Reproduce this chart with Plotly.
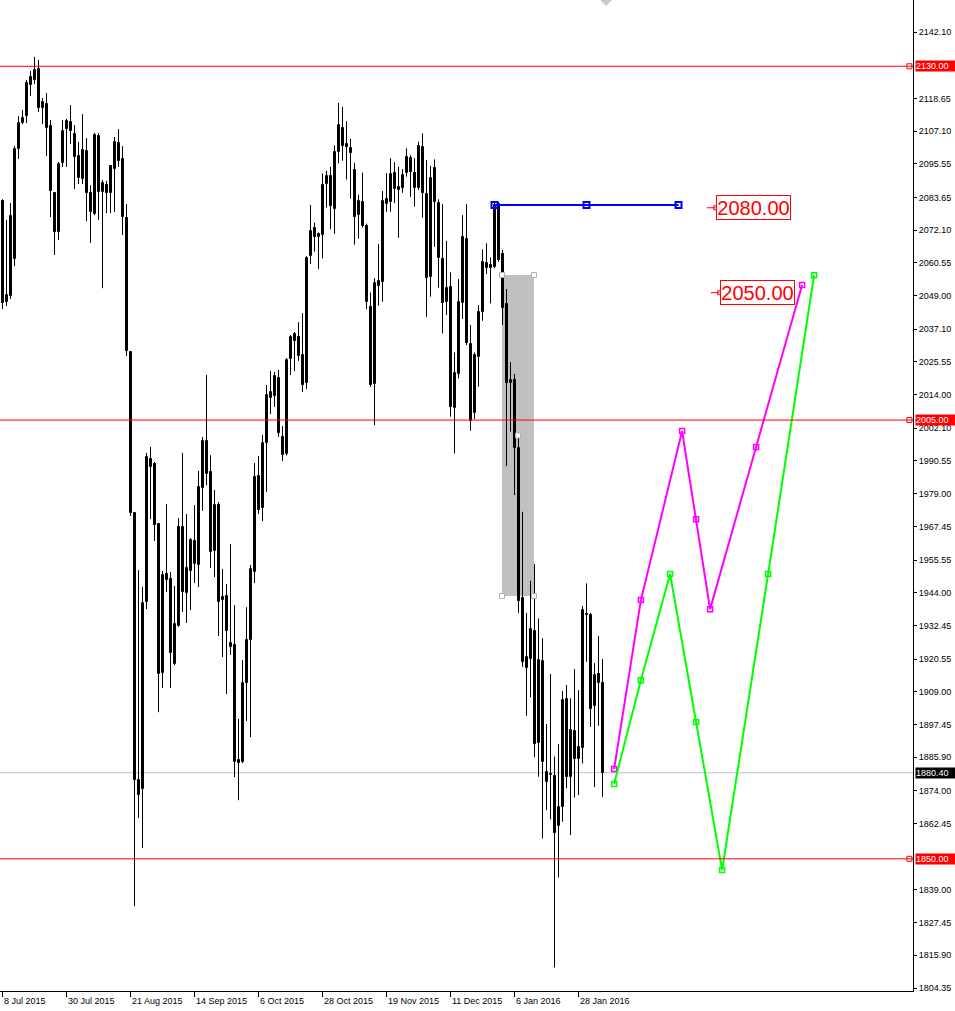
import plotly.graph_objects as go

# ---------------- data ----------------
opens = [2082.4, 2046.7, 2048.8, 2061.9, 2100.8, 2109.9, 2112.4, 2123.4, 2125.1, 2129.0,
         2115.2, 2116.7, 2108.9, 2085.2, 2071.4, 2095.8, 2107.8, 2110.3, 2106.1, 2098.3,
         2090.2, 2100.0, 2085.2, 2077.8, 2105.3, 2085.6, 2088.0, 2085.2, 2093.7, 2102.9,
         2097.2, 2076.4, 2029.0, 1972.1, 1877.8, 1874.6, 1940.7, 1991.2, 1989.5, 1968.3,
         1915.6, 1950.6, 1948.8, 1918.8, 1932.2, 1967.2, 1943.9, 1951.7, 1962.3, 1953.8,
         1981.0, 1997.6, 1986.6, 1958.7, 1975.0, 1941.4, 1942.8, 1924.8, 1925.5, 1884.9,
         1884.2, 1912.1, 1927.3, 1951.3, 1985.2, 1973.9, 1996.9, 2012.8, 2013.5, 2019.9,
         1999.0, 1993.0, 2026.6, 2032.9, 2034.3, 2028.0, 2018.1, 2062.9, 2072.7, 2069.8,
         2070.5, 2088.4, 2091.2, 2079.7, 2099.8, 2108.2, 2102.7, 2101.1, 2093.5, 2077.6,
         2082.1, 2073.7, 2044.9, 2017.6, 2052.4, 2053.7, 2081.2, 2082.1, 2092.2, 2086.2,
         2086.9, 2092.2, 2097.7, 2092.4, 2086.9, 2101.4, 2084.9, 2055.4, 2093.9, 2081.6,
         2061.8, 2046.8, 2051.9, 2009.1, 2021.2, 2046.2, 2068.9, 2031.8, 2007.6, 2027.4,
         2043.1, 2060.4, 2059.8, 2059.0, 2081.2, 2063.7, 2046.0, 2018.2, 2019.1, 1995.2,
         1942.1, 1917.3, 1920.5, 1930.5, 1890.8, 1919.9, 1877.0, 1879.9, 1879.2, 1861.7,
         1868.4, 1906.3, 1879.0, 1895.1, 1885.1, 1889.0, 1936.4, 1936.1, 1904.1, 1915.2,
         1912.0]
highs = [2083.0, 2075.7, 2081.7, 2101.8, 2112.4, 2114.5, 2125.1, 2128.3, 2133.3, 2132.2,
         2118.8, 2120.5, 2111.0, 2085.2, 2096.2, 2111.0, 2111.4, 2116.3, 2109.2, 2103.2,
         2113.1, 2104.6, 2088.0, 2106.4, 2106.4, 2089.8, 2089.5, 2095.1, 2105.0, 2107.8,
         2101.8, 2081.3, 2029.0, 1972.5, 1952.0, 1946.0, 1993.4, 1995.5, 1990.2, 1968.6,
         1951.7, 1975.3, 1951.3, 1946.4, 1970.4, 1993.4, 1971.8, 1963.3, 1975.0, 1987.0,
         1999.0, 2020.9, 1992.6, 1980.3, 1976.0, 1952.4, 1947.1, 1961.2, 1939.6, 1899.4,
         1920.2, 1938.9, 1953.8, 1989.8, 1992.3, 1999.7, 2017.4, 2022.3, 2022.0, 2022.7,
         2002.9, 2026.9, 2035.0, 2036.1, 2039.6, 2042.8, 2062.9, 2081.0, 2074.8, 2071.3,
         2092.1, 2093.1, 2094.5, 2102.0, 2117.0, 2115.6, 2110.6, 2104.4, 2095.9, 2084.6,
         2092.4, 2074.4, 2050.1, 2055.1, 2067.2, 2085.9, 2092.2, 2097.5, 2096.1, 2094.5,
         2093.7, 2101.0, 2098.6, 2097.5, 2103.3, 2106.3, 2096.9, 2094.8, 2097.1, 2083.0,
         2081.3, 2068.3, 2057.2, 2028.9, 2054.8, 2077.4, 2081.3, 2038.6, 2028.9, 2045.6,
         2065.3, 2067.4, 2062.5, 2082.4, 2082.1, 2065.1, 2051.3, 2025.5, 2021.3, 1999.5,
         1972.6, 1936.9, 1948.2, 1954.1, 1934.9, 1927.9, 1897.6, 1915.3, 1886.1, 1890.5,
         1909.3, 1911.4, 1906.7, 1917.0, 1909.6, 1939.3, 1947.3, 1936.9, 1919.1, 1928.7,
         1920.6]
lows = [2044.2, 2045.3, 2047.8, 2059.4, 2097.2, 2109.5, 2109.9, 2119.5, 2123.7, 2113.8,
        2109.6, 2098.3, 2076.7, 2063.3, 2068.6, 2094.4, 2094.4, 2102.5, 2086.6, 2088.4,
        2088.4, 2075.3, 2067.6, 2077.4, 2075.7, 2051.6, 2078.1, 2078.1, 2078.5, 2094.4,
        2070.4, 2027.6, 1971.1, 1833.3, 1864.4, 1853.8, 1938.2, 1970.0, 1962.3, 1901.8,
        1910.3, 1944.2, 1910.3, 1918.4, 1932.0, 1937.2, 1933.3, 1937.9, 1947.4, 1946.0,
        1972.9, 1982.0, 1952.7, 1949.5, 1928.7, 1921.3, 1908.2, 1922.0, 1878.9, 1870.7,
        1883.8, 1898.7, 1893.0, 1947.4, 1971.8, 1969.3, 1979.6, 2007.1, 2009.6, 1999.0,
        1990.5, 1992.5, 2020.9, 2022.3, 2025.9, 2014.9, 2016.0, 2060.1, 2064.5, 2058.4,
        2062.1, 2080.1, 2072.4, 2070.8, 2095.7, 2096.6, 2090.0, 2083.2, 2067.0, 2069.1,
        2073.0, 2044.2, 2016.7, 2003.2, 2045.4, 2046.8, 2078.6, 2078.6, 2081.6, 2069.4,
        2085.3, 2091.0, 2083.9, 2080.4, 2086.3, 2076.5, 2041.5, 2048.6, 2066.2, 2051.8,
        2035.6, 2042.1, 2006.2, 1993.2, 2019.7, 2040.7, 2031.5, 2001.2, 2005.4, 2016.8,
        2040.1, 2056.6, 2046.2, 2058.6, 2060.9, 2038.6, 1988.8, 2000.9, 1978.5, 1936.9,
        1917.8, 1900.5, 1907.0, 1885.9, 1879.0, 1857.2, 1867.2, 1863.9, 1811.6, 1843.4,
        1863.1, 1874.9, 1858.4, 1871.6, 1872.5, 1883.7, 1919.6, 1896.6, 1875.3, 1897.0,
        1871.9]
closes = [2046.3, 2049.2, 2077.1, 2100.8, 2109.9, 2111.7, 2124.1, 2126.2, 2128.7, 2115.2,
          2117.4, 2108.2, 2085.9, 2071.4, 2095.5, 2107.1, 2110.7, 2107.1, 2097.9, 2090.5,
          2100.4, 2085.2, 2078.5, 2105.7, 2085.6, 2088.7, 2085.2, 2094.8, 2103.2, 2096.5,
          2076.7, 2029.4, 1972.1, 1877.8, 1872.5, 1940.4, 1991.9, 1988.4, 1967.9, 1915.3,
          1950.2, 1948.5, 1922.7, 1932.9, 1967.2, 1944.2, 1952.7, 1962.6, 1954.1, 1981.3,
          1997.6, 1985.9, 1958.4, 1975.0, 1940.7, 1942.5, 1930.5, 1926.2, 1884.2, 1883.8,
          1912.1, 1927.3, 1952.4, 1984.9, 1973.2, 1996.9, 2013.8, 2014.9, 2020.6, 2000.4,
          1992.6, 2026.2, 2034.3, 2035.4, 2027.6, 2017.4, 2062.2, 2071.8, 2069.8, 2070.8,
          2087.9, 2091.4, 2080.8, 2099.7, 2109.3, 2102.0, 2101.4, 2099.4, 2076.9, 2082.5,
          2073.7, 2046.7, 2017.4, 2053.3, 2054.0, 2082.4, 2083.0, 2091.9, 2086.5, 2087.2,
          2091.5, 2097.8, 2092.5, 2086.9, 2101.8, 2085.1, 2055.1, 2090.4, 2082.1, 2062.1,
          2046.5, 2051.5, 2009.7, 2021.5, 2046.6, 2069.6, 2032.3, 2004.8, 2027.9, 2043.1,
          2060.7, 2058.6, 2058.6, 2081.0, 2061.5, 2044.5, 2018.0, 2019.1, 1995.2, 1941.2,
          1919.6, 1921.2, 1931.1, 1890.4, 1920.2, 1884.1, 1880.5, 1879.6, 1859.2, 1868.2,
          1906.1, 1879.0, 1895.5, 1885.2, 1889.4, 1937.9, 1936.0, 1902.9, 1914.9, 1912.0,
          1880.4]

date_labels = ["8 Jul 2015", "30 Jul 2015", "21 Aug 2015", "14 Sep 2015", "6 Oct 2015",
               "28 Oct 2015", "19 Nov 2015", "11 Dec 2015", "6 Jan 2016", "28 Jan 2016"]
date_label_bars = [0, 16, 32, 48, 64, 80, 96, 112, 128, 144]

price_ticks = [2142.10, 2118.65, 2107.10, 2095.55, 2083.65, 2072.10, 2060.55, 2049.00,
               2037.10, 2025.55, 2014.00, 2002.10, 1990.55, 1979.00, 1967.45, 1955.55,
               1944.00, 1932.45, 1920.55, 1909.00, 1897.45, 1885.90, 1874.00, 1862.45,
               1839.00, 1827.45, 1815.90, 1804.35]

level_lines = [2130.00, 2005.00, 1850.00]
current_price = 1880.40

trend_x = [123, 146, 169]
trend_y = [2081.0, 2081.0, 2081.0]

magenta_x = [152.9, 159.6, 169.9, 173.4, 176.9, 188.4, 199.9]
magenta_y = [1881.7, 1941.4, 2001.1, 1970.0, 1938.2, 1995.5, 2052.7]
green_x = [152.9, 159.6, 166.9, 173.4, 179.9, 191.4, 202.9]
green_y = [1876.4, 1913.1, 1950.6, 1898.3, 1846.0, 1950.6, 2056.2]

rect_x = [124.875, 132.875]
rect_y = [1942.84, 2056.25]

target_labels = [2080.00, 2050.00]
target_label_bars = [187.75, 188.75]
target_handle_bars = [[176.1, 178.3], [177.1, 179.3]]

# ---------------- figure ----------------
n = len(opens)
xs = list(range(n))
x_range = [-0.625, 227.625]
y_range = [1803.29, 2153.405]
FONT = "Liberation Sans, Arial, sans-serif"

fig = go.Figure()

# wicks
wx, wy = [], []
for i in xs:
    wx += [i, i, None]
    wy += [lows[i], highs[i], None]
fig.add_trace(go.Scatter(x=wx, y=wy, mode="lines", line=dict(color="black", width=1),
                         hoverinfo="skip", showlegend=False))

# bodies
for bull in (True, False):
    bx, base, hgt = [], [], []
    for i in xs:
        o, c = opens[i], closes[i]
        if (c >= o) == bull:
            bx.append(i)
            base.append(min(o, c))
            hgt.append(max(abs(c - o), 0.05))
    fig.add_trace(go.Bar(x=bx, y=hgt, base=base, width=0.5,
                         marker=dict(color="white" if bull else "black",
                                     line=dict(color="black", width=1)),
                         hoverinfo="skip", showlegend=False))

# trend line (blue)
fig.add_trace(go.Scatter(x=trend_x, y=trend_y, mode="lines+markers",
                         line=dict(color="#0000FF", width=2),
                         marker=dict(symbol="square-open", size=6, color="#0000FF",
                                     line=dict(width=2, color="#0000FF")),
                         showlegend=False, hoverinfo="skip"))

# zigzags
fig.add_trace(go.Scatter(x=magenta_x, y=magenta_y, mode="lines+markers",
                         line=dict(color="#FF00FF", width=2),
                         marker=dict(symbol="square-open", size=5, color="#FF00FF",
                                     line=dict(width=1.5, color="#FF00FF")),
                         showlegend=False, hoverinfo="skip"))
fig.add_trace(go.Scatter(x=green_x, y=green_y, mode="lines+markers",
                         line=dict(color="#00FF00", width=2),
                         marker=dict(symbol="square-open", size=5, color="#00FF00",
                                     line=dict(width=1.5, color="#00FF00")),
                         showlegend=False, hoverinfo="skip"))

# rectangle handles
rcx = [rect_x[0], rect_x[1], rect_x[0], rect_x[1], (rect_x[0] + rect_x[1]) / 2]
rcy = [rect_y[1], rect_y[1], rect_y[0], rect_y[0], (rect_y[0] + rect_y[1]) / 2]
fig.add_trace(go.Scatter(x=rcx, y=rcy, mode="markers",
                         marker=dict(symbol="square", size=5, color="white",
                                     line=dict(width=1, color="#B0B0B0")),
                         showlegend=False, hoverinfo="skip"))

# target label handles
for lv, hb in zip(target_labels, target_handle_bars):
    fig.add_trace(go.Scatter(x=[hb[0], hb[1]], y=[lv, lv], mode="lines",
                             line=dict(color="#FF0000", width=1),
                             showlegend=False, hoverinfo="skip"))
    fig.add_trace(go.Scatter(x=[hb[1]], y=[lv], mode="markers",
                             marker=dict(symbol="square-open", size=4, color="#FF0000",
                                         line=dict(width=1, color="#FF0000")),
                             showlegend=False, hoverinfo="skip"))

# level line end handles
fig.add_trace(go.Scatter(x=[x_range[1] - 0.9] * len(level_lines), y=level_lines, mode="markers",
                         marker=dict(symbol="square-open", size=5, color="#FF0000",
                                     line=dict(width=1, color="#FF0000")),
                         showlegend=False, hoverinfo="skip"))

# shift marker at top
fig.add_trace(go.Scatter(x=[(n - 1) + 0.9], y=[y_range[1]], mode="markers",
                         marker=dict(symbol="diamond", size=9, color="#C8C8C8"),
                         showlegend=False, hoverinfo="skip"))

shapes = [dict(type="rect", xref="x", yref="y", x0=rect_x[0], x1=rect_x[1],
               y0=rect_y[0], y1=rect_y[1], fillcolor="#C0C0C0",
               line=dict(width=0), layer="below")]
for lv in level_lines:
    shapes.append(dict(type="line", xref="paper", yref="y", x0=0, x1=1, y0=lv, y1=lv,
                       line=dict(color="#FF0000", width=1), layer="above"))
shapes.append(dict(type="line", xref="paper", yref="y", x0=0, x1=1,
                   y0=current_price, y1=current_price,
                   line=dict(color="#C0C0C0", width=1), layer="below"))

annotations = []
for b, lab in zip(date_label_bars, date_labels):
    annotations.append(dict(x=b, y=0, xref="x", yref="paper", text=lab, showarrow=False,
                            xanchor="left", yanchor="top", xshift=-1, yshift=-3,
                            font=dict(family=FONT, size=9, color="black")))
for lv in level_lines:
    annotations.append(dict(x=1, y=lv, xref="paper", yref="y", text="%.2f" % lv,
                            showarrow=False, xanchor="left", yanchor="middle", xshift=2,
                            width=40, height=10, align="left", borderpad=0,
                            bgcolor="#FF0000", font=dict(family=FONT, size=9, color="white")))
annotations.append(dict(x=1, y=current_price, xref="paper", yref="y", text="%.2f" % current_price,
                        showarrow=False, xanchor="left", yanchor="middle", xshift=2,
                        width=40, height=10, align="left", borderpad=0,
                        bgcolor="black", font=dict(family=FONT, size=9, color="white")))
for lv, b in zip(target_labels, target_label_bars):
    annotations.append(dict(x=b, y=lv, xref="x", yref="y", text="%.2f" % lv,
                            showarrow=False, xanchor="center", yanchor="middle",
                            width=73, height=23, borderpad=0, borderwidth=1,
                            bordercolor="#FF0000", bgcolor="white",
                            font=dict(family=FONT, size=20, color="#FF0000")))

fig.update_layout(
    width=955, height=1011,
    margin=dict(l=0, r=42, t=0, b=20),
    paper_bgcolor="white", plot_bgcolor="white",
    barmode="overlay", bargap=0,
    showlegend=False,
    shapes=shapes, annotations=annotations,
    xaxis=dict(range=x_range, showgrid=False, zeroline=False, showline=True,
               linecolor="black", linewidth=1, ticks="outside", ticklen=5,
               tickcolor="black", tickvals=date_label_bars, showticklabels=False,
               fixedrange=True),
    yaxis=dict(range=y_range, side="right", showgrid=False, zeroline=False,
               showline=True, linecolor="black", linewidth=1, ticks="outside",
               ticklen=3, tickcolor="black", tickvals=price_ticks,
               ticktext=["%.2f" % v for v in price_ticks],
               tickfont=dict(family=FONT, size=9, color="black"), fixedrange=True),
)

fig.write_html("out.html", config={"displayModeBar": False},
               post_script="document.body.style.margin='0px';")
